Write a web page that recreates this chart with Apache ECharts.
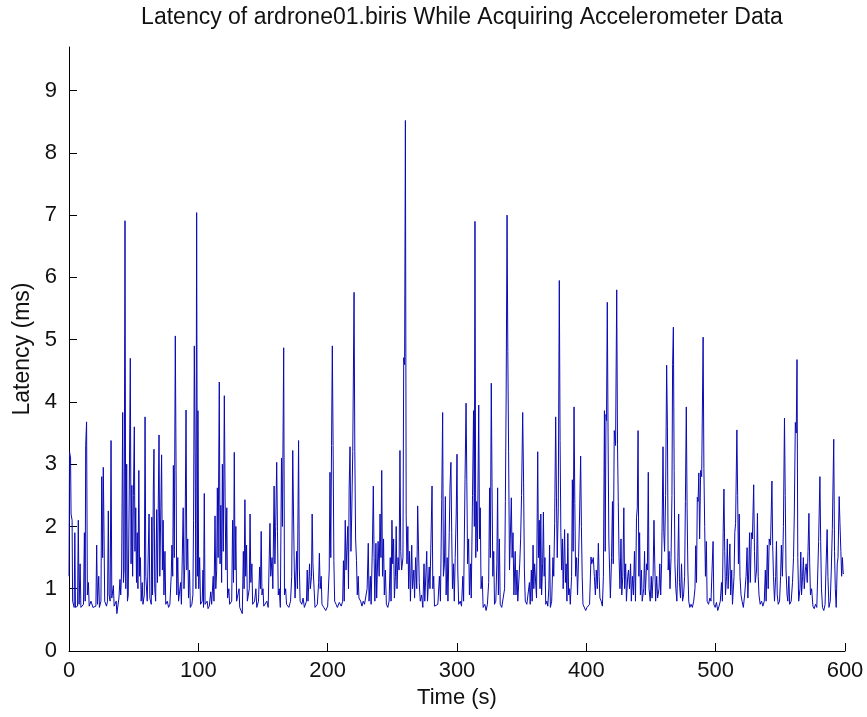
<!DOCTYPE html>
<html>
<head>
<meta charset="utf-8">
<script src="https://cdn.jsdelivr.net/npm/echarts@6/dist/echarts.min.js"></script>
<style>
  html, body { margin: 0; padding: 0; background: #fff; }
  #chart { width: 867px; height: 717px; }
</style>
</head>
<body>
<div id="chart"></div>
<script>
// latency trace: [time (s), latency (ms)]
const latency = [
  [0, 1.2], [0.4, 3.2], [1.2, 3.1], [1.6, 2.2], [2.4, 2.1], [2.8, 0.8], [4, 0.7], [4.5, 1.9], [5, 0.7],
  [6.6, 0.72], [7.2, 2.1], [7.8, 0.75], [8.6, 1.4], [9.2, 0.7], [11.2, 0.75], [11.9, 1.9], [12.5, 0.8],
  [12.9, 3.3], [13.6, 3.68], [14.2, 0.9], [15, 1.1], [15.6, 0.72], [17, 0.8], [18.5, 0.7], [20.8, 0.72],
  [21.4, 1.7], [22, 0.75], [23, 1.2], [23.5, 0.7], [24.7, 0.8], [25.3, 2.8], [26, 1.5], [26.5, 2.95],
  [27.1, 1.85], [27.6, 0.8], [29, 0.72], [29.8, 0.8], [30.4, 2.25], [31, 0.9], [31.8, 0.8], [32.5, 3.38],
  [33.1, 0.85], [34.3, 1.05], [34.9, 0.72], [36.5, 0.8], [37, 0.6], [38.6, 0.85], [39.4, 1.15], [40, 0.9],
  [40.7, 1.3], [41.5, 3.83], [42.1, 1.1], [42.6, 1.3], [43.3, 6.91], [43.9, 1.0], [44.6, 3.0], [45.2, 0.8],
  [45.8, 0.9], [46.6, 2.6], [47.4, 4.7], [48, 1.4], [48.6, 2.66], [49.2, 1.2], [49.8, 2.5], [50.5, 3.6],
  [51, 1.6], [51.6, 2.3], [52.2, 1.1], [52.8, 1.9], [53.3, 1.0], [54, 2.9], [54.6, 1.2], [55.2, 1.5],
  [55.8, 0.8], [56.6, 1.1], [57.2, 0.75], [58.2, 0.9], [58.8, 3.76], [59.4, 1.2], [60.5, 0.8], [61.9, 2.2],
  [62.5, 0.85], [63.6, 0.75], [64, 2.15], [64.6, 0.9], [65.2, 2.6], [65.7, 3.24], [66.3, 1.0], [67, 0.8],
  [67.8, 2.27], [68.4, 1.1], [69.6, 3.47], [70.2, 1.2], [71, 2.3], [71.6, 3.15], [72.2, 1.3], [72.8, 2.1],
  [73.4, 0.9], [74.2, 1.6], [74.8, 0.75], [76, 0.8], [77, 0.7], [78, 0.75], [79, 1.2], [79.6, 1.7],
  [80.2, 1.2], [80.7, 2.98], [81.4, 1.5], [82.2, 5.06], [82.8, 2.9], [83.3, 0.9], [84.1, 1.5], [84.7, 0.8],
  [86.3, 1.1], [86.9, 0.75], [88.3, 2.3], [88.9, 1.0], [89.6, 1.4], [90.5, 3.87], [91.1, 1.3], [91.8, 1.8],
  [92.4, 0.85], [93.2, 1.3], [93.8, 0.7], [95, 0.75], [95.8, 0.9], [96.3, 2.1], [96.9, 4.9], [97.5, 3.2],
  [98.1, 1.0], [98.7, 7.04], [99.3, 1.2], [99.7, 3.86], [100.3, 1.0], [101, 1.5], [101.7, 0.75], [103, 0.8],
  [103.6, 1.3], [104, 0.7], [104.6, 2.53], [105.2, 0.75], [106.8, 0.8], [107.5, 0.68], [108.5, 0.72],
  [109.6, 0.95], [110.3, 0.75], [111.5, 1.2], [112.1, 0.8], [112.9, 2.17], [113.5, 1.0], [114.2, 1.3],
  [114.7, 2.62], [115.3, 1.5], [116.2, 4.32], [116.8, 1.4], [117.4, 2.34], [118, 1.1], [118.6, 3.0],
  [119.3, 1.6], [120.1, 4.1], [120.7, 2.46], [121.3, 1.3], [122, 2.3], [122.6, 0.85], [123.6, 1.0],
  [124.2, 0.75], [125.8, 0.8], [126.5, 2.1], [127.2, 1.1], [127.8, 3.19], [128.4, 1.3], [129, 2.0],
  [129.6, 0.8], [131.5, 1.0], [132, 0.7], [134, 0.6], [134.8, 1.6], [135.4, 1.0], [136, 2.43], [136.6, 1.2],
  [137.3, 1.7], [137.9, 0.8], [139.4, 1.0], [140, 2.2], [140.6, 1.1], [141.4, 1.4], [142, 0.75],
  [143.5, 0.8], [144.5, 1.0], [145.2, 0.7], [146.5, 0.8], [147.4, 1.35], [148, 1.0], [148.6, 1.92],
  [149.2, 0.9], [150, 1.0], [150.6, 0.72], [152, 0.75], [153, 0.8], [154, 0.7], [155.4, 2.05], [156, 1.2],
  [157, 1.5], [157.6, 1.0], [158.6, 2.65], [159.2, 1.4], [159.8, 2.0], [160.6, 3.03], [161.2, 1.92],
  [161.8, 0.9], [162.6, 1.0], [163.4, 0.7], [164.3, 3.1], [165, 2.0], [166, 4.87], [166.6, 0.9],
  [167.5, 1.0], [168.2, 0.75], [170, 0.7], [171.3, 0.8], [172.2, 1.2], [173, 3.22], [173.6, 2.2],
  [174.2, 1.3], [174.8, 0.85], [176, 1.6], [176.6, 1.0], [177.5, 3.38], [178.1, 1.35], [178.7, 0.8],
  [180, 0.75], [181, 0.85], [182, 0.7], [183.6, 0.8], [184.2, 1.3], [184.8, 0.8], [186, 1.4], [186.6, 1.0],
  [187.5, 1.2], [188, 2.2], [188.6, 1.4], [189.5, 1.0], [190.2, 0.7], [192, 0.75], [193, 1.1], [193.6, 1.57],
  [194.2, 1.0], [195, 1.2], [195.6, 0.75], [197, 0.7], [198.5, 0.65], [200, 0.72], [200.6, 0.75],
  [201.2, 1.3], [201.8, 2.87], [202.4, 1.5], [203, 3.3], [203.6, 4.9], [204.2, 3.3], [204.8, 1.45],
  [205.4, 0.8], [206.5, 0.75], [207.5, 0.7], [209, 0.78], [210.5, 0.72], [211.6, 0.8], [212.2, 1.45],
  [212.8, 0.8], [213.6, 2.1], [214.2, 1.3], [215.5, 2.0], [216.1, 1.0], [216.6, 2.6], [217.3, 3.28],
  [218, 1.6], [218.6, 2.2], [219.4, 3.2], [220.4, 5.76], [221, 3.2], [221.6, 1.8], [222.3, 1.45],
  [222.9, 0.9], [223.6, 1.2], [224.2, 0.85], [225.5, 0.8], [226.5, 0.72], [227.5, 0.8], [228.5, 0.75],
  [229.8, 0.78], [230.5, 1.0], [231.4, 1.73], [232, 0.8], [233, 1.2], [233.6, 0.75], [234.6, 1.7],
  [235.3, 2.65], [235.9, 1.5], [236.5, 0.8], [237.3, 1.73], [237.9, 0.85], [239, 1.76], [239.8, 1.2],
  [240.5, 2.2], [241.2, 1.5], [241.8, 2.9], [242.4, 1.2], [243.2, 1.8], [243.8, 0.9], [244.6, 1.3],
  [245.4, 0.75], [246.5, 0.7], [247.5, 0.8], [248.4, 1.5], [249, 0.8], [249.7, 2.1], [250.3, 1.4],
  [251, 1.8], [251.6, 0.85], [252.4, 1.2], [253, 2.0], [253.6, 1.0], [254.4, 1.5], [255.2, 1.3],
  [255.9, 3.22], [256.5, 1.6], [257.2, 1.3], [258.2, 1.5], [258.8, 4.71], [259.5, 4.6], [260.1, 8.52],
  [260.7, 2.18], [261.3, 1.4], [262, 2.0], [262.6, 1.0], [263.3, 1.6], [264, 0.8], [265, 1.7], [265.6, 1.0],
  [266.6, 1.3], [267.2, 0.85], [268, 1.5], [268.9, 1.0], [269.6, 2.33], [270.2, 1.7], [270.8, 1.1],
  [271.6, 0.8], [272.6, 0.9], [273.6, 0.7], [274.5, 1.4], [275.1, 0.8], [276.6, 1.6], [277.2, 0.8],
  [278.5, 1.35], [279.1, 1.0], [279.9, 1.8], [280.7, 2.65], [281.3, 1.0], [282, 1.2], [282.6, 0.72],
  [284, 0.7], [285.2, 0.75], [286.4, 1.2], [287.2, 0.8], [288.2, 2.43], [288.9, 3.83], [289.5, 1.2],
  [290.3, 1.4], [291, 2.48], [291.6, 0.9], [292.4, 1.5], [293, 0.8], [294, 1.9], [294.6, 2.65],
  [295.3, 3.03], [295.9, 1.9], [296.5, 1.0], [297.3, 1.4], [297.9, 0.8], [298.6, 1.5], [299.4, 2.2],
  [300, 3.16], [300.6, 1.3], [301.3, 0.75], [302.5, 0.8], [303.5, 0.72], [304.5, 1.2], [305.1, 0.8],
  [306.2, 2.75], [307, 3.98], [307.6, 2.72], [308.2, 1.4], [309, 1.8], [309.6, 0.9], [310.4, 1.4],
  [311, 0.85], [312, 2.5], [312.8, 3.86], [313.4, 2.0], [313.9, 6.9], [314.5, 1.5], [315.2, 2.4],
  [315.8, 1.6], [316.8, 3.95], [317.4, 1.8], [318, 2.3], [318.6, 1.0], [319.5, 1.2], [320.2, 0.7],
  [321.5, 0.75], [322.5, 0.65], [323.5, 0.75], [324.5, 1.1], [325.2, 2.62], [325.8, 1.5], [326.5, 4.3],
  [327.1, 2.62], [327.7, 1.2], [328.4, 1.6], [329, 0.75], [330, 0.8], [330.8, 1.4], [331.4, 2.62],
  [332, 0.9], [332.8, 1.8], [333.4, 0.75], [334.6, 0.7], [335.5, 0.72], [336.8, 1.0], [337.4, 2.4],
  [338, 4.08], [338.7, 7.0], [339.3, 4.81], [339.9, 3.2], [340.6, 1.3], [341.2, 1.8], [342, 2.46],
  [342.6, 1.5], [343.3, 1.9], [344, 0.9], [345, 1.6], [345.6, 0.9], [346.4, 1.3], [347, 0.8], [348.5, 1.4],
  [349.2, 1.8], [349.9, 2.5], [350.8, 3.83], [351.5, 2.7], [352.1, 1.3], [352.8, 0.8], [354, 0.75],
  [355, 0.72], [356, 1.1], [356.6, 0.75], [357.5, 1.3], [358.1, 0.8], [358.8, 1.7], [359.4, 1.0],
  [360, 1.4], [360.9, 1.4], [361.5, 0.85], [362.4, 3.2], [363, 1.5], [363.6, 2.1], [364.2, 1.0],
  [364.8, 2.2], [365.4, 0.9], [366.2, 1.4], [366.8, 2.23], [367.4, 1.2], [368, 1.5], [368.6, 0.75],
  [369.5, 0.8], [370.2, 0.72], [371, 1.0], [371.6, 1.7], [372.2, 0.7], [373.2, 0.8], [374.2, 1.5],
  [374.8, 1.2], [375.5, 2.05], [376.3, 3.76], [376.9, 2.46], [377.5, 1.5], [378.3, 2.3], [379.1, 5.95],
  [379.7, 3.38], [380.3, 1.9], [380.9, 1.3], [381.5, 1.8], [382.1, 1.0], [383.2, 1.95], [383.8, 1.1],
  [384.4, 1.4], [385, 0.8], [385.7, 1.89], [386.3, 0.9], [387, 1.0], [387.6, 0.75], [388.6, 1.2],
  [389.2, 2.75], [389.8, 1.6], [390.5, 3.92], [391.1, 2.37], [391.7, 1.2], [392.5, 1.5], [393.2, 0.9],
  [394, 1.5], [394.8, 2.2], [395.6, 3.13], [396.2, 2.0], [396.8, 1.2], [397.4, 0.75], [398.5, 0.72],
  [399.5, 0.65], [400.5, 0.7], [401.5, 0.68], [402.5, 0.75], [403.6, 1.51], [404.2, 1.4], [405.4, 1.5],
  [406.2, 1.2], [407, 0.9], [407.7, 1.3], [408.5, 1.0], [409.3, 1.73], [409.9, 1.2], [410.5, 0.85],
  [411.5, 0.8], [412.4, 0.72], [413.2, 1.2], [414, 3.86], [414.6, 1.6], [415.2, 3.8], [415.6, 3.7],
  [416.2, 5.6], [416.8, 3.5], [417.4, 1.8], [418, 1.3], [418.6, 0.85], [419.5, 1.5], [420.2, 2.4],
  [420.8, 1.4], [421.6, 3.54], [422.6, 3.3], [423.5, 5.8], [424.1, 3.32], [424.7, 2.4], [425.3, 1.5],
  [426, 1.0], [426.8, 1.8], [427.4, 0.9], [428.2, 1.2], [429, 2.3], [429.6, 1.0], [430.4, 1.4], [431, 0.8],
  [432, 1.2], [432.6, 1.3], [433.4, 1.0], [434.2, 1.4], [434.8, 0.8], [435.6, 1.2], [436.4, 0.9],
  [437.2, 1.6], [438, 0.8], [438.8, 2.14], [439.4, 2.3], [440, 3.54], [440.6, 1.2], [441.2, 1.9],
  [441.8, 0.9], [442.6, 1.3], [443.2, 0.8], [444.4, 1.0], [445, 1.6], [445.6, 0.9], [446.6, 1.4],
  [447.2, 1.3], [447.9, 2.87], [448.5, 1.0], [449.4, 0.8], [450.2, 1.2], [450.8, 0.85], [451.6, 1.2],
  [452.3, 2.1], [452.9, 1.4], [453.6, 0.8], [454.4, 1.2], [455.1, 0.85], [456.2, 1.0], [456.8, 1.4],
  [457.5, 0.9], [458.2, 1.4], [458.7, 2.2], [459.3, 3.28], [459.9, 1.9], [460.5, 1.6], [461.3, 2.5],
  [462.1, 4.59], [462.7, 3.6], [463.3, 1.3], [464, 1.6], [464.7, 1.0], [465.5, 1.5], [466.2, 2.5],
  [466.7, 4.6], [467.3, 5.2], [467.9, 2.9], [468.5, 1.4], [469.2, 1.0], [470, 0.8], [470.8, 1.5],
  [471.4, 2.2], [472, 1.1], [472.8, 0.85], [473.6, 1.4], [474.4, 0.8], [475.2, 0.9], [476, 1.2],
  [476.6, 2.4], [477.3, 3.92], [477.9, 2.3], [478.5, 1.3], [479.2, 0.8], [480, 0.7], [481, 0.75], [482, 0.7],
  [483, 0.8], [484, 1.0], [484.6, 1.69], [485.2, 1.1], [485.8, 2.47], [486.4, 2.4], [487, 2.86],
  [487.6, 1.8], [488.4, 2.9], [489.2, 2.8], [490.3, 5.04], [490.9, 2.93], [491.5, 2.0], [492.1, 1.2],
  [492.8, 1.76], [493.4, 0.8], [494.5, 0.75], [495.5, 0.85], [496.4, 0.8], [497.2, 1.3], [498, 1.76],
  [498.6, 0.75], [499.6, 0.7], [500.6, 0.78], [501.6, 0.65], [502.6, 0.72], [503.6, 0.8], [504.5, 1.1],
  [505.2, 0.8], [505.8, 1.9], [506.4, 2.6], [507, 1.6], [507.6, 0.9], [508.4, 1.2], [509, 1.8], [509.6, 1.0],
  [510.2, 1.3], [511, 1.72], [511.6, 0.9], [512.4, 1.3], [513, 0.75], [514.2, 1.2], [514.8, 1.9],
  [515.4, 2.05], [516.4, 3.55], [517, 2.5], [517.6, 1.4], [518.2, 2.2], [518.8, 1.2], [519.6, 0.9],
  [520.4, 0.8], [521.4, 0.7], [522.4, 0.9], [523.5, 1.2], [524.3, 1.66], [524.9, 0.85], [525.6, 1.3],
  [526.2, 1.9], [526.8, 1.1], [527.6, 1.9], [528.4, 1.8], [529.4, 2.67], [530, 1.6], [530.6, 1.1],
  [531.6, 1.3], [532.3, 2.21], [532.9, 1.2], [533.5, 0.9], [534.4, 0.75], [535.5, 0.8], [536.5, 0.72],
  [537.6, 0.8], [538.4, 1.3], [539, 0.8], [540, 1.7], [540.6, 1.0], [541.4, 1.8], [542.4, 1.7],
  [543.5, 2.73], [544.1, 1.7], [544.7, 1.2], [545.5, 0.8], [546.4, 1.2], [547, 1.76], [547.6, 0.9],
  [548.4, 0.75], [549.4, 0.8], [550.2, 1.2], [550.8, 1.7], [551.6, 1.2], [552.4, 2.0], [553.2, 3.74],
  [553.8, 2.5], [554.4, 1.3], [555.2, 0.9], [555.8, 0.8], [556.6, 1.2], [557.2, 0.75], [558.4, 0.8],
  [559.4, 1.1], [560.2, 1.5], [560.8, 2.2], [561.6, 3.67], [562.3, 3.5], [562.9, 4.68], [563.5, 1.5],
  [564.2, 0.8], [565.2, 1.0], [565.8, 1.59], [566.4, 0.9], [567.2, 1.2], [567.8, 1.5], [568.5, 1.0],
  [569.3, 1.3], [570, 1.4], [570.8, 1.1], [571.4, 1.6], [572.1, 2.21], [572.7, 1.4], [573.3, 0.9],
  [574.2, 1.0], [575.2, 0.72], [576.2, 0.68], [577.2, 0.75], [578.2, 0.7], [579, 1.3], [579.6, 1.76],
  [580.6, 2.8], [581.2, 1.76], [581.8, 1.0], [582.6, 0.7], [583.6, 0.65], [584.6, 0.75], [585.4, 1.4],
  [586.2, 1.95], [586.8, 1.2], [587.6, 0.7], [588.6, 0.8], [589.4, 1.3], [590.2, 1.95], [591.3, 3.4],
  [591.9, 1.6], [592.5, 1.0], [593.2, 0.7], [594, 1.4], [594.6, 1.5], [595.5, 2.48], [596.1, 2.05],
  [596.8, 1.6], [597.4, 1.2], [598, 1.5], [598.6, 1.24], [599.2, 1.25]
];

const xTicks = [0, 100, 200, 300, 400, 500, 600];
const yTicks = [0, 1, 2, 3, 4, 5, 6, 7, 8, 9];

const FONT = '"Liberation Sans", Arial, Helvetica, sans-serif';
const ink = '#111';

const chart = echarts.init(document.getElementById('chart'), null, { renderer: 'canvas' });

chart.setOption({
  animation: false,
  backgroundColor: '#fff',
  title: {
    text: 'Latency of ardrone01.biris While Acquiring Accelerometer Data',
    left: 457,
    textAlign: 'center',
    top: 1,
    textStyle: { fontFamily: FONT, fontSize: 23, fontWeight: 'normal', color: ink }
  },
  grid: { left: 69, right: 22, top: 47, bottom: 66, containLabel: false },
  xAxis: {
    type: 'value',
    min: 0,
    max: 600,
    interval: 100,
    name: 'Time (s)',
    nameLocation: 'middle',
    nameGap: 35,
    nameTextStyle: { fontFamily: FONT, fontSize: 22, color: ink },
    axisLine: { show: true, onZero: false, lineStyle: { color: '#000', width: 1 } },
    axisTick: { show: true, inside: true, length: 8, lineStyle: { color: '#000' }, customValues: xTicks },
    axisLabel: { fontFamily: FONT, fontSize: 22, color: ink, margin: 9, customValues: xTicks },
    splitLine: { show: false }
  },
  yAxis: {
    type: 'value',
    min: 0,
    max: 9.7,
    interval: 1,
    name: 'Latency (ms)',
    nameLocation: 'middle',
    nameGap: 31,
    nameTextStyle: { fontFamily: FONT, fontSize: 23, color: ink },
    axisLine: { show: true, onZero: false, lineStyle: { color: '#000', width: 1 } },
    axisTick: { show: true, inside: true, length: 8, lineStyle: { color: '#000' }, customValues: yTicks },
    axisLabel: { fontFamily: FONT, fontSize: 22, color: ink, margin: 12, customValues: yTicks },
    splitLine: { show: false }
  },
  series: [{
    type: 'line',
    data: latency,
    showSymbol: false,
    symbol: 'none',
    lineStyle: { color: '#0a0ab4', width: 1 },
    clip: true
  }]
});
</script>
</body>
</html>
